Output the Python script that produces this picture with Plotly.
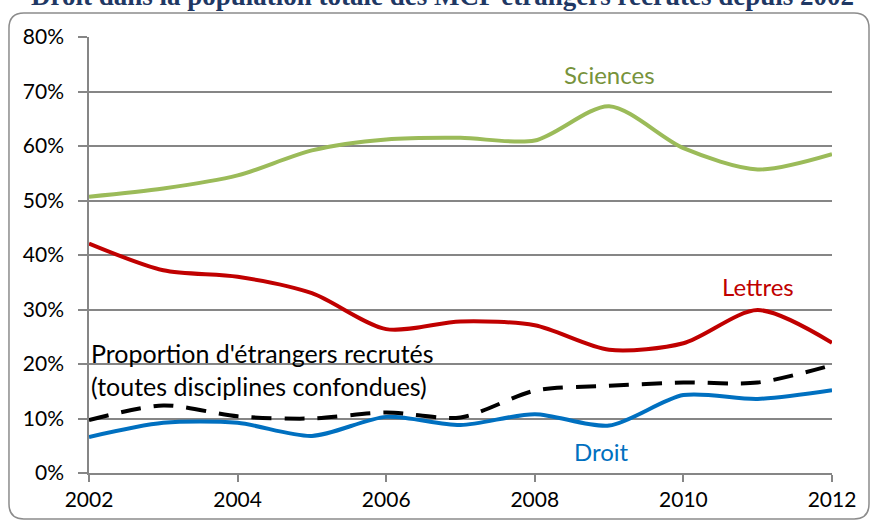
import plotly.graph_objects as go

years = list(range(2002, 2013))
sciences = [50.7, 52.2, 54.6, 59.2, 61.2, 61.5, 61.0, 67.3, 59.6, 55.7, 58.5]
lettres = [42.1, 37.2, 36.0, 33.0, 26.4, 27.8, 27.1, 22.6, 23.8, 29.9, 23.9]
droit = [6.6, 9.2, 9.2, 6.8, 10.3, 8.8, 10.8, 8.7, 14.3, 13.6, 15.2]
total = [9.7, 12.4, 10.4, 10.0, 11.1, 10.2, 15.1, 16.0, 16.6, 16.6, 19.8]

y_ticks = [0, 10, 20, 30, 40, 50, 60, 70, 80]
y_labels = [f"{v}%" for v in y_ticks]
x_ticks = [2002, 2004, 2006, 2008, 2010, 2012]

title_text = "Droit dans la population totale des MCF étrangers recrutés depuis 2002"

FONT = "Lato"
fig = go.Figure()
fig.add_trace(go.Scatter(x=years, y=sciences, mode="lines",
                         line=dict(color="#9BBB59", width=4, shape="spline", smoothing=0.8)))
fig.add_trace(go.Scatter(x=years, y=lettres, mode="lines",
                         line=dict(color="#C00000", width=4, shape="spline", smoothing=0.8)))
fig.add_trace(go.Scatter(x=years, y=droit, mode="lines",
                         line=dict(color="#0070C0", width=4, shape="spline", smoothing=0.8)))
fig.add_trace(go.Scatter(x=years, y=total, mode="lines",
                         line=dict(color="#000000", width=4, shape="spline", smoothing=0.8,
                                   dash="20px,13px")))

annots = [
    dict(x=2009, y=73.1, text="Sciences", font=dict(color="#77933C", size=24, family=FONT)),
    dict(x=2011, y=34.3, text="Lettres", font=dict(color="#C00000", size=24, family=FONT)),
    dict(x=2008.9, y=4.0, text="Droit", font=dict(color="#0070C0", size=24, family=FONT)),
]
for a in annots:
    fig.add_annotation(xref="x", yref="y", showarrow=False, **a)

fig.add_annotation(xref="x", yref="y", x=2002.0, y=19.0, xanchor="left", yanchor="middle",
                   showarrow=False, align="left",
                   text="Proportion d'étrangers recrutés<br>(toutes disciplines confondues)",
                   font=dict(color="#000000", size=25, family=FONT))

fig.add_annotation(xref="paper", yref="paper", x=0.476, y=1.094, xanchor="center", yanchor="middle",
                   showarrow=False, text="<b>" + title_text + "</b>",
                   font=dict(color="#1F3864", size=27, family="Liberation Serif"))

# rounded border
x0, x1 = -0.1077, 1.0498
y0, y1 = -0.1055, 1.055
fig.add_shape(type="path", xref="paper", yref="paper",
              path=(f"M {x0+0.02},{y0} L {x1-0.02},{y0} Q {x1},{y0} {x1},{y0+0.035} "
                    f"L {x1},{y1-0.035} Q {x1},{y1} {x1-0.02},{y1} "
                    f"L {x0+0.02},{y1} Q {x0},{y1} {x0},{y1-0.035} "
                    f"L {x0},{y0+0.035} Q {x0},{y0} {x0+0.02},{y0} Z"),
              line=dict(color="#8C8C8C", width=1.5), layer="below")

fig.update_layout(
    width=873, height=527,
    margin=dict(l=89, r=41, t=37, b=54),
    paper_bgcolor="white", plot_bgcolor="white",
    showlegend=False,
    font=dict(family=FONT, size=21, color="#000000"),
)
fig.update_xaxes(range=[2002, 2012], tickvals=x_ticks, ticktext=[str(v) for v in x_ticks],
                 showgrid=False, zeroline=False, showline=True, linecolor="#868686", linewidth=1.5,
                 ticks="outside", ticklen=7, tickcolor="#868686", tickwidth=1.5,
                 tickfont=dict(size=21, family=FONT))
fig.update_yaxes(range=[0, 80], tickvals=y_ticks, ticktext=y_labels,
                 showgrid=True, gridcolor="#868686", gridwidth=1.5, zeroline=False,
                 showline=True, linecolor="#868686", linewidth=1.5,
                 ticks="outside", ticklen=9, tickcolor="#868686", tickwidth=1.5,
                 ticklabelstandoff=10,
                 tickfont=dict(size=21, family=FONT))

fig.write_html("out.html", config={"displayModeBar": False},
               post_script="document.body.style.margin='0px';")
